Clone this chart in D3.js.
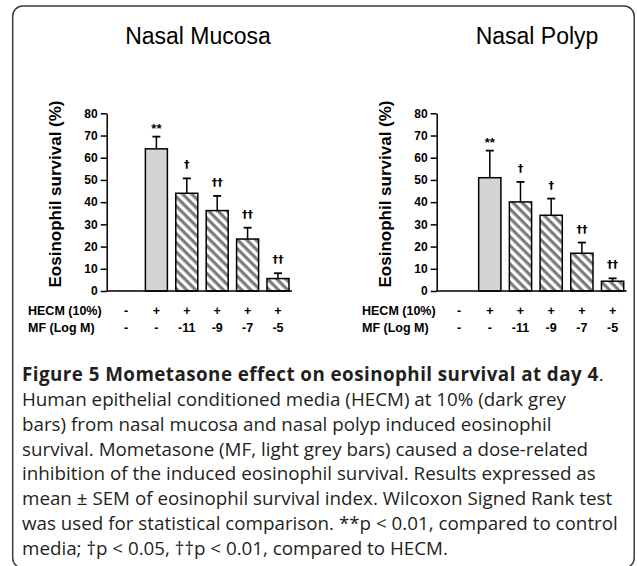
<!DOCTYPE html>
<html>
<head>
<meta charset="utf-8">
<script src="https://cdn.jsdelivr.net/npm/d3@7"></script>
<style>
  body { margin: 0; background: #fff; }
  svg { display: block; }
</style>
</head>
<body>
<svg id="chart" width="637" height="566"></svg>
<script>
// groups along the x axis, one bar each
var groups = ["Control", "HECM", "MF -11", "MF -9", "MF -7", "MF -5"];
var hecmRow = ["-", "+", "+", "+", "+", "+"];
var mfRow = ["-", "-", "-11", "-9", "-7", "-5"];
var yTicks = [0, 10, 20, 30, 40, 50, 60, 70, 80];

// eosinophil survival (%), mean and SEM
var mucosaMean = [0.3, 64, 44, 36.2, 23.4, 5.6];
var mucosaSem = [0, 5.5, 6.7, 6.6, 5.1, 2.4];
var mucosaSig = ["", "**", "\u2020", "\u2020\u2020", "\u2020\u2020", "\u2020\u2020"];

var polypMean = [0, 51, 40.1, 34.1, 17, 4.4];
var polypSem = [0, 12.2, 9, 7.5, 4.8, 1.3];
var polypSig = ["", "**", "\u2020", "\u2020", "\u2020\u2020", "\u2020\u2020"];

var captionLines = [
  "Human epithelial conditioned media (HECM) at 10% (dark grey",
  "bars) from nasal mucosa and nasal polyp induced eosinophil",
  "survival. Mometasone (MF, light grey bars) caused a dose-related",
  "inhibition of the induced eosinophil survival. Results expressed as",
  "mean \u00b1 SEM of eosinophil survival index. Wilcoxon Signed Rank test",
  "was used for statistical comparison. **p < 0.01, compared to control",
  "media; \u2020p < 0.05, \u2020\u2020p < 0.01, compared to HECM."
];

var svg = d3.select("#chart");
var chartFont = "'Liberation Sans', Arial, sans-serif";

// frame around the whole figure
svg.append("rect")
  .attr("x", 12.7).attr("y", 6)
  .attr("width", 621.5).attr("height", 562)
  .attr("rx", 10).attr("ry", 10)
  .attr("fill", "none")
  .attr("stroke", "#3a3a3a")
  .attr("stroke-width", 1.5);

// diagonal hatching for the mometasone bars
var defs = svg.append("defs");
var pat = defs.append("pattern")
  .attr("id", "hatch")
  .attr("patternUnits", "userSpaceOnUse")
  .attr("width", 6.5).attr("height", 6.5)
  .attr("patternTransform", "rotate(45)");
pat.append("rect").attr("width", 6.5).attr("height", 6.5).attr("fill", "#fff");
pat.append("rect").attr("width", 6.5).attr("height", 3.2).attr("fill", "#7c7c7c");

var y = d3.scaleLinear().domain([0, 80]).range([291, 113.3]);

function drawPanel(opts) {
  var g = svg.append("g").attr("fill", "#000");
  var x = d3.scaleBand()
    .domain(groups)
    .range([opts.bandStart, opts.bandStart + opts.step * 6.276])
    .paddingInner(0.276)
    .paddingOuter(0.276);
  var bw = x.bandwidth();

  // title
  g.append("text")
    .attr("x", opts.titleX).attr("y", 44)
    .attr("text-anchor", "middle")
    .attr("font-family", chartFont)
    .attr("font-size", 23)
    .text(opts.title);

  // bars
  g.selectAll("rect.bar")
    .data(opts.mean)
    .enter().append("rect")
      .attr("class", "bar")
      .attr("x", function(d, i) { return x(groups[i]); })
      .attr("width", bw)
      .attr("y", function(d) { return y(d); })
      .attr("height", function(d) { return y(0) - y(d); })
      .attr("fill", function(d, i) { return i === 0 ? "#9a9a9a" : (i === 1 ? "#d4d4d4" : "url(#hatch)"); })
      .attr("stroke", function(d, i) { return i === 0 ? "none" : "#000"; })
      .attr("stroke-width", 1.5);

  // error bars (upper only)
  opts.mean.forEach(function(m, i) {
    if (!opts.sem[i]) return;
    var cx = x(groups[i]) + bw / 2;
    var top = y(m + opts.sem[i]);
    g.append("line")
      .attr("x1", cx).attr("x2", cx)
      .attr("y1", y(m)).attr("y2", top)
      .attr("stroke", "#000").attr("stroke-width", 1.5);
    g.append("line")
      .attr("x1", cx - 4).attr("x2", cx + 4)
      .attr("y1", top).attr("y2", top)
      .attr("stroke", "#000").attr("stroke-width", 1.8);
    // significance marks
    var sig = opts.sig[i];
    g.append("text")
      .attr("x", cx)
      .attr("y", top - (sig === "**" ? 4 : 10))
      .attr("text-anchor", "middle")
      .attr("font-family", sig === "**" ? chartFont : "'DejaVu Sans', sans-serif")
      .attr("font-weight", "bold")
      .attr("font-size", sig === "**" ? 13 : 11)
      .attr("fill", "#000")
      .text(sig);
  });

  // y axis
  var ax = g.append("g")
    .attr("transform", "translate(" + opts.axisX + ",0)")
    .call(d3.axisLeft(y).tickValues(yTicks).tickSize(6).tickSizeOuter(0).tickPadding(3));
  ax.select(".domain").attr("stroke-width", 1.5);
  ax.selectAll(".tick line").attr("stroke-width", 1.5);
  ax.selectAll(".tick text")
    .attr("font-family", chartFont)
    .attr("font-weight", "bold")
    .attr("font-size", 12)
    .attr("fill", "#000");

  // x axis line
  g.append("line")
    .attr("x1", opts.axisX).attr("x2", x(groups[5]) + bw + 3)
    .attr("y1", y(0)).attr("y2", y(0))
    .attr("stroke", "#000").attr("stroke-width", 1.5);

  // y label
  g.append("text")
    .attr("transform", "translate(" + (opts.axisX - 46) + "," + 194 + ") rotate(-90)")
    .attr("text-anchor", "middle")
    .attr("font-family", chartFont)
    .attr("font-weight", "bold")
    .attr("font-size", 17)
    .text("Eosinophil survival (%)");

  // treatment rows under the axis
  [["HECM (10%)", hecmRow, 315], ["MF (Log M)", mfRow, 332]].forEach(function(r) {
    g.append("text")
      .attr("x", opts.rowLabelX).attr("y", r[2])
      .attr("font-family", chartFont)
      .attr("font-weight", "bold")
      .attr("font-size", 12.5)
      .text(r[0]);
    g.selectAll(null)
      .data(r[1])
      .enter().append("text")
        .attr("x", function(d, i) { return x(groups[i]) + bw / 2; })
        .attr("y", r[2])
        .attr("text-anchor", "middle")
        .attr("font-family", chartFont)
        .attr("font-weight", "bold")
        .attr("font-size", 12.5)
        .text(function(d) { return d; });
  });
}

drawPanel({
  title: "Nasal Mucosa", titleX: 198,
  axisX: 106.7, bandStart: 106.6, step: 30.4, rowLabelX: 28,
  mean: mucosaMean, sem: mucosaSem, sig: mucosaSig
});
drawPanel({
  title: "Nasal Polyp", titleX: 537,
  axisX: 436.7, bandStart: 439.5, step: 30.7, rowLabelX: 362,
  mean: polypMean, sem: polypSem, sig: polypSig
});

// caption
var capFont = "'Open Sans', 'Noto Sans', sans-serif";
var cap = svg.append("g").attr("fill", "#231f20").attr("font-family", capFont).attr("font-size", 18.8);
var first = cap.append("text").attr("x", 22).attr("y", 381);
first.append("tspan").attr("font-weight", "bold").attr("letter-spacing", 0.45)
  .text("Figure 5 Mometasone effect on eosinophil survival at day 4");
first.append("tspan").text(".");
captionLines.forEach(function(t, i) {
  cap.append("text")
    .attr("x", 22)
    .attr("y", 406 + i * 24.8)
    .text(t);
});
</script>
</body>
</html>
